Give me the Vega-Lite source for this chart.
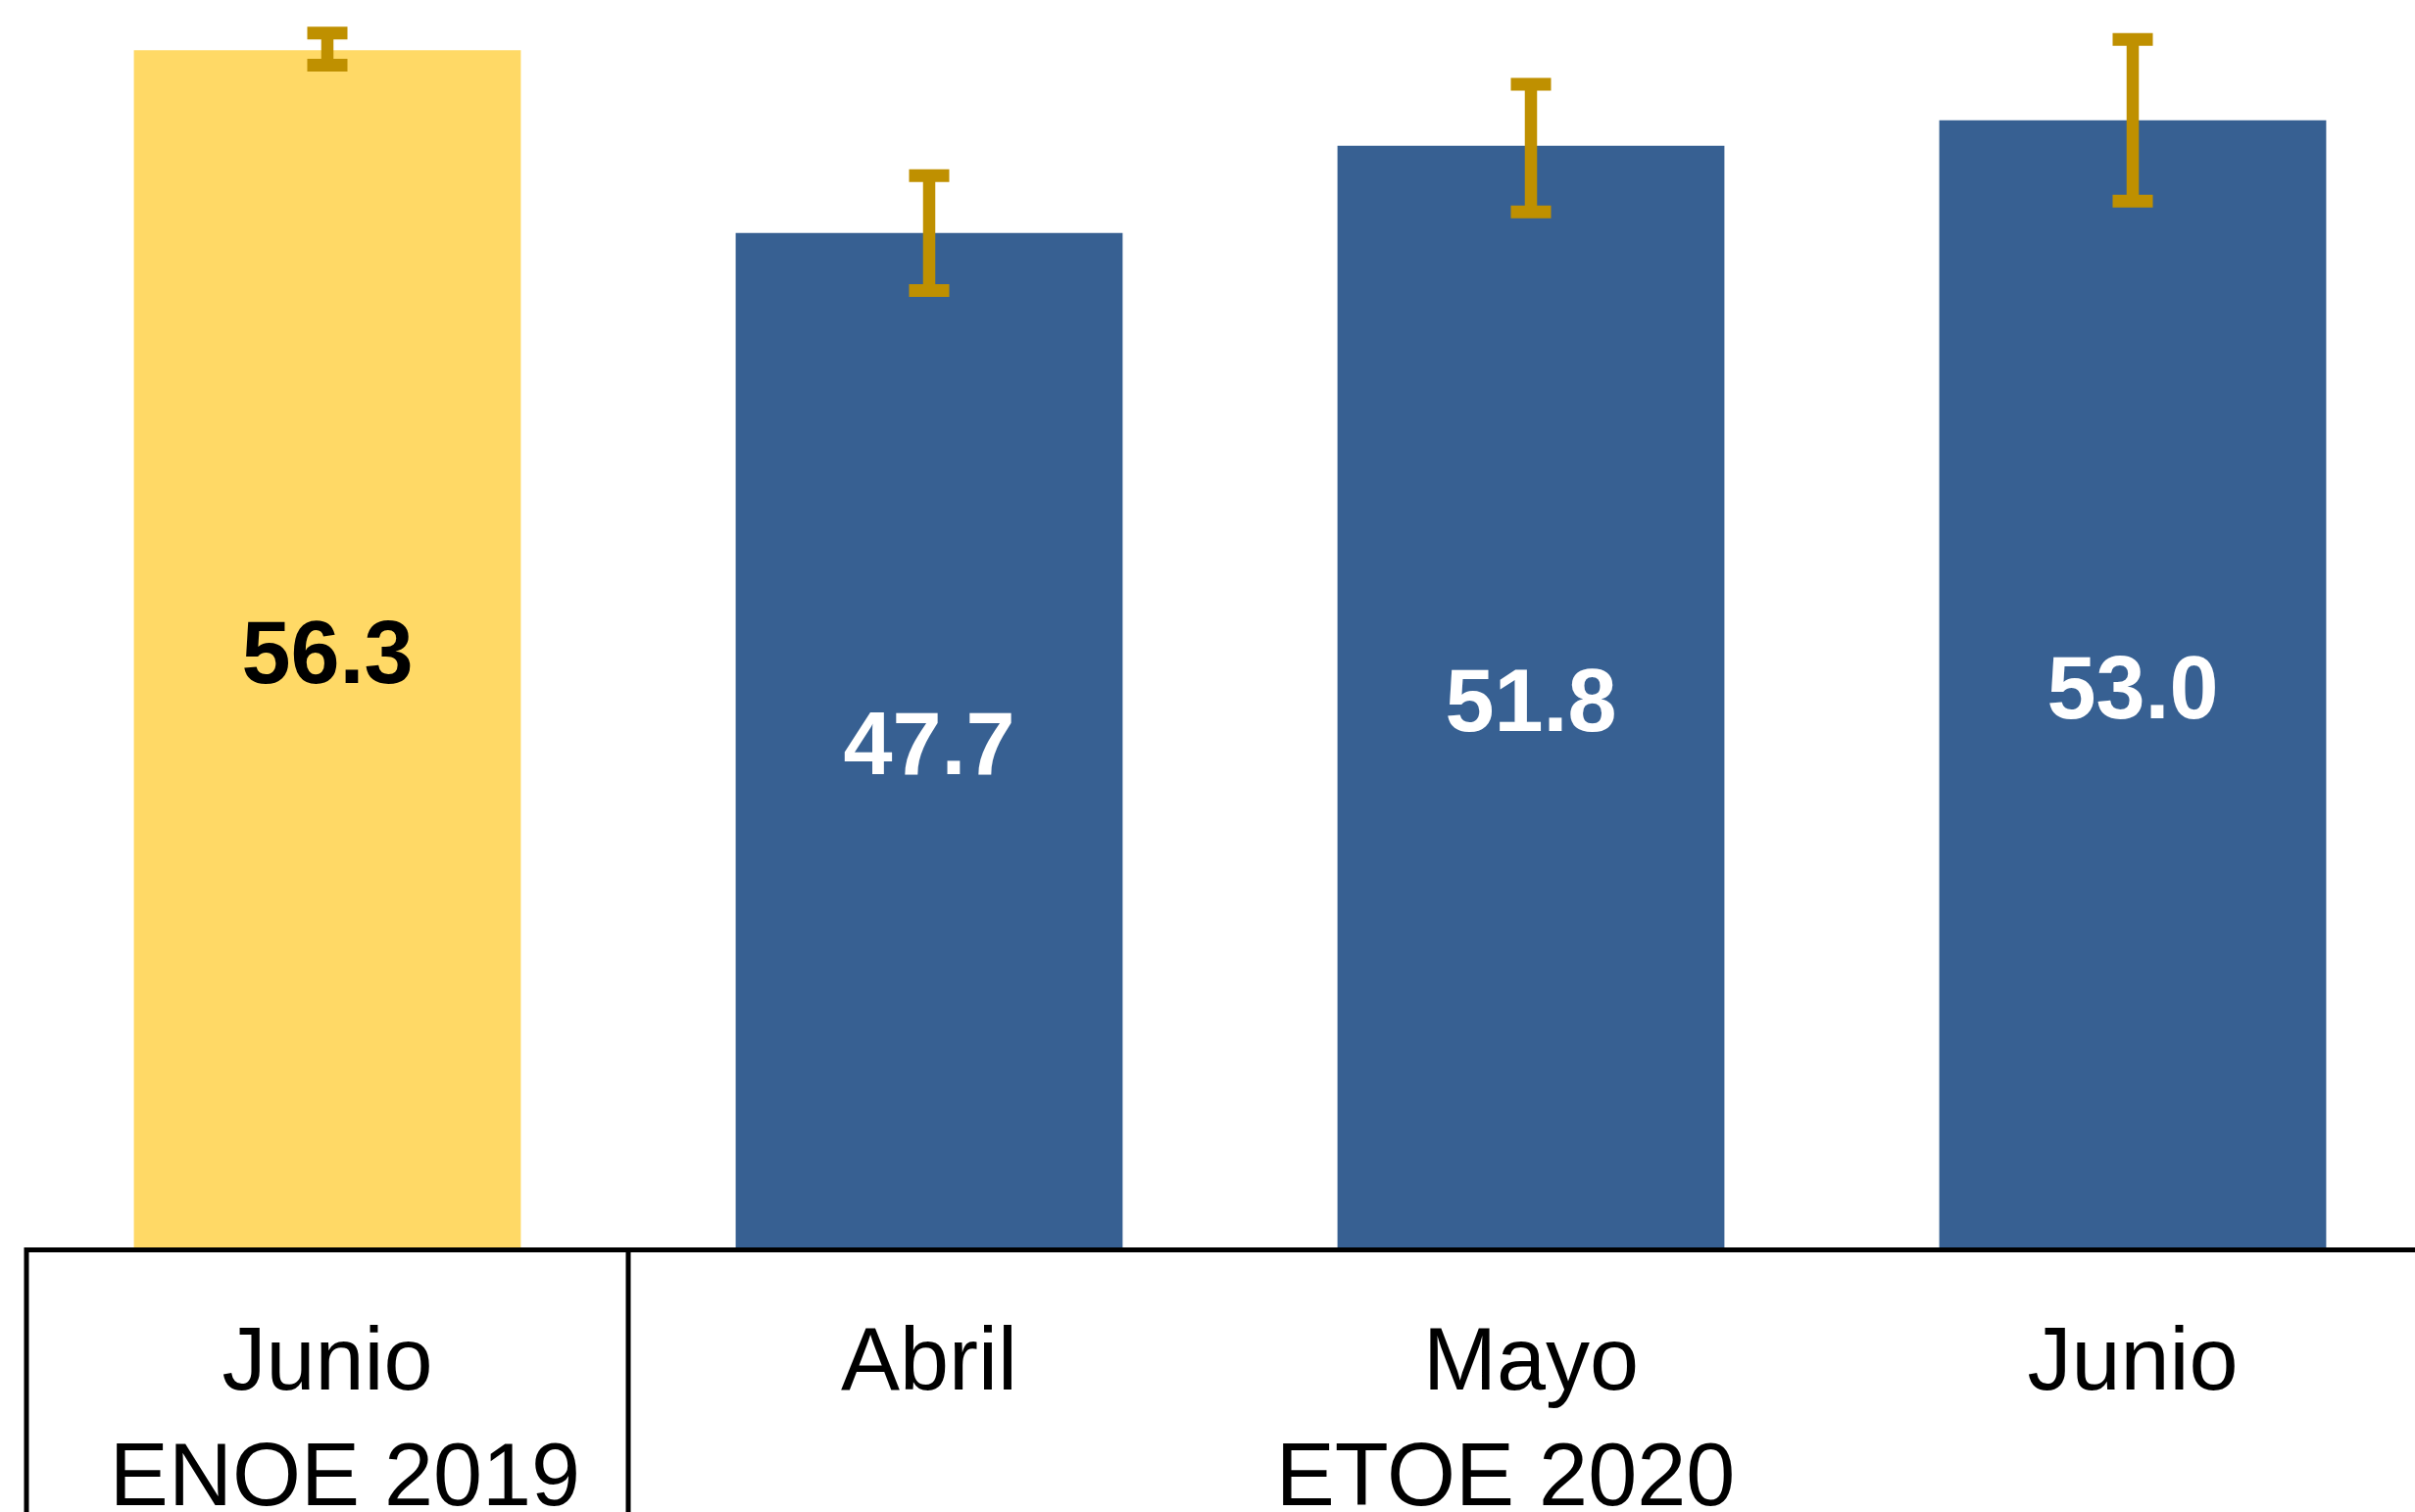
{
  "$schema": "https://vega.github.io/schema/vega-lite/v6.json",
  "width": 2437,
  "height": 1273,
  "autosize": "none",
  "padding": {"left": 27, "top": 0, "right": 0, "bottom": 270},
  "background": "white",
  "config": {"view": {"stroke": null}, "font": "Liberation Sans"},
  "data": {
    "values": [
      {"periodo": "Junio 2019", "grupo": "ENOE 2019", "valor": 56.3, "inf": 55.6, "sup": 57.1},
      {"periodo": "Abril 2020", "grupo": "ETOE 2020", "valor": 47.7, "inf": 45.0, "sup": 50.4},
      {"periodo": "Mayo 2020", "grupo": "ETOE 2020", "valor": 51.8, "inf": 48.7, "sup": 54.7},
      {"periodo": "Junio 2020", "grupo": "ETOE 2020", "valor": 53.0, "inf": 49.2, "sup": 56.8}
    ]
  },
  "layer": [
    {
      "layer": [
        {
          "mark": {"type": "bar", "width": {"band": 0.643}},
          "encoding": {
            "x": {
              "field": "periodo", "type": "nominal", "sort": null,
              "scale": {"domain": ["Junio 2019", "Abril 2020", "Mayo 2020", "Junio 2020"], "range": [0, 2456], "paddingInner": 0, "paddingOuter": 0},
              "axis": {
                "title": null, "ticks": false, "tickSize": 0, "grid": false,
                "domain": true, "domainColor": "black", "domainWidth": 5, "offset": 2,
                "labelFont": "Liberation Sans", "labelFontSize": 90, "labelColor": "black",
                "labelBaseline": "alphabetic", "labelPadding": 142, "labelAngle": 0,
                "labelLimit": 800, "labelOverlap": false,
                "labelExpr": "split(datum.label, ' ')[0]"
              }
            },
            "y": {"field": "valor", "type": "quantitative", "scale": {"domain": [0, 58.66]}, "axis": null},
            "color": {"condition": {"test": "datum.grupo === 'ENOE 2019'", "value": "#FFD966"}, "value": "#376092"}
          }
        },
        {
          "mark": {"type": "rule", "color": "#BF9000", "strokeWidth": 12.5},
          "encoding": {
            "x": {"field": "periodo", "type": "nominal", "sort": null},
            "y": {"field": "inf", "type": "quantitative", "scale": {"domain": [0, 58.66]}},
            "y2": {"field": "sup"}
          }
        },
        {
          "mark": {"type": "tick", "color": "#BF9000", "size": 41, "thickness": 13, "opacity": 1},
          "encoding": {
            "x": {"field": "periodo", "type": "nominal", "sort": null},
            "y": {"field": "inf", "type": "quantitative", "scale": {"domain": [0, 58.66]}}
          }
        },
        {
          "mark": {"type": "tick", "color": "#BF9000", "size": 41, "thickness": 13, "opacity": 1},
          "encoding": {
            "x": {"field": "periodo", "type": "nominal", "sort": null},
            "y": {"field": "sup", "type": "quantitative", "scale": {"domain": [0, 58.66]}}
          }
        },
        {
          "transform": [{"filter": "datum.periodo === 'Junio 2019' || datum.periodo === 'Abril 2020'"}],
          "mark": {"type": "rule", "color": "black", "strokeWidth": 5},
          "encoding": {
            "x": {"field": "periodo", "type": "nominal", "sort": null, "bandPosition": 0},
            "y": {"datum": 0, "type": "quantitative", "scale": {"domain": [0, 58.66]}},
            "y2": {"datum": -13}
          }
        },
        {
          "transform": [{"filter": "datum.periodo === 'Junio 2019'"}],
          "mark": {"type": "text", "font": "Liberation Sans", "fontSize": 90, "color": "black", "baseline": "alphabetic", "align": "center", "dx": 18},
          "encoding": {
            "x": {"field": "periodo", "type": "nominal", "sort": null},
            "y": {"datum": -12.12, "type": "quantitative", "scale": {"domain": [0, 58.66]}},
            "text": {"field": "grupo"}
          }
        },
        {
          "transform": [{"filter": "datum.periodo === 'Mayo 2020'"}],
          "mark": {"type": "text", "font": "Liberation Sans", "fontSize": 90, "color": "black", "baseline": "alphabetic", "align": "center", "dx": -26},
          "encoding": {
            "x": {"field": "periodo", "type": "nominal", "sort": null},
            "y": {"datum": -12.12, "type": "quantitative", "scale": {"domain": [0, 58.66]}},
            "text": {"field": "grupo"}
          }
        }
      ]
    },
    {
      "mark": {"type": "text", "font": "Liberation Sans", "fontWeight": "bold", "fontSize": 90, "baseline": "alphabetic", "align": "center", "dy": 35},
      "encoding": {
        "x": {"field": "periodo", "type": "nominal", "sort": null},
        "y": {"field": "valor", "type": "quantitative", "scale": {"domain": [0, 117.32]}, "axis": null},
        "text": {"field": "valor", "type": "quantitative", "format": ".1f"},
        "color": {"condition": {"test": "datum.grupo === 'ENOE 2019'", "value": "black"}, "value": "white"}
      }
    }
  ],
  "resolve": {"scale": {"y": "independent"}}
}
